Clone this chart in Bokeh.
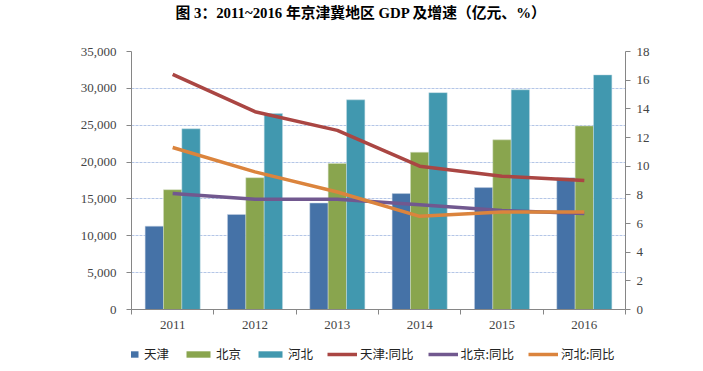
from bokeh.plotting import figure
from bokeh.models import Range1d, LinearAxis, FixedTicker, NumeralTickFormatter, Legend, LegendItem, ColumnDataSource, Label
from bokeh.layouts import column
from bokeh.transform import dodge
from bokeh.embed import file_html
from bokeh.resources import INLINE

years = ["2011", "2012", "2013", "2014", "2015", "2016"]
gdp_tianjin = [11307, 12894, 14442, 15727, 16538, 17885]
gdp_beijing = [16252, 17879, 19801, 21331, 23015, 24899]
gdp_hebei = [24516, 26575, 28443, 29421, 29806, 31828]
growth_tianjin = [16.4, 13.8, 12.5, 10.0, 9.3, 9.0]
growth_beijing = [8.1, 7.7, 7.7, 7.3, 6.9, 6.7]
growth_hebei = [11.3, 9.6, 8.2, 6.5, 6.8, 6.8]
series_names = ["天津", "北京", "河北", "天津:同比", "北京:同比", "河北:同比"]
title_text = "图 3：2011~2016 年京津冀地区 GDP 及增速（亿元、%）"

bar_colors = ["#4572a7", "#89a54e", "#4198af"]
bar_edges = ["#c8d4e4", "#d4dec4", "#c4dce4"]
line_colors = ["#aa4643", "#71588f", "#db843d"]

W = 695
FL, FR = 131, 625          # frame left / right (pixels) shared by all strips
idx = list(range(len(years)))
bw = 0.223

# ---------- title strip ----------
TH = 26
pt = figure(width=W, height=TH, x_range=Range1d(FL, FR), y_range=Range1d(0, TH),
            x_axis_location=None, y_axis_location=None, min_border=0,
            min_border_left=FL, min_border_right=W - FR,
            output_backend="svg", toolbar_location=None)
pt.grid.visible = False
pt.outline_line_color = None
pt.add_layout(Label(x=175, y=TH - 12.5, text=title_text, text_align="left", text_baseline="middle",
                    text_font="Liberation Serif, Noto Sans CJK SC", text_font_size="14.8px",
                    text_font_style="bold", text_color="black"))

# ---------- main chart ----------
p = figure(frame_width=FR - FL, frame_height=258, width=W, height=25 + 258 + 28,
           min_border_left=FL, min_border_right=W - FR, min_border_top=25, min_border_bottom=28,
           x_range=Range1d(-0.5, len(years) - 0.5), y_range=Range1d(0, 35000),
           output_backend="svg", toolbar_location=None)
p.extra_y_ranges = {"r": Range1d(0, 18)}
p.outline_line_color = None
p.xgrid.visible = False
p.ygrid.grid_line_color = "#b4c6e7"
p.ygrid.grid_line_dash = "3 1"
p.ygrid.grid_line_width = 1

src = ColumnDataSource(dict(
    x=idx, tj=gdp_tianjin, bj=gdp_beijing, hb=gdp_hebei,
    gtj=growth_tianjin, gbj=growth_beijing, ghb=growth_hebei))

p.vbar(x=dodge("x", -bw, range=p.x_range), top="tj", width=bw, source=src,
       fill_color=bar_colors[0], line_color=bar_edges[0], line_width=0.5)
p.vbar(x="x", top="bj", width=bw, source=src,
       fill_color=bar_colors[1], line_color=bar_edges[1], line_width=0.5)
p.vbar(x=dodge("x", bw, range=p.x_range), top="hb", width=bw, source=src,
       fill_color=bar_colors[2], line_color=bar_edges[2], line_width=0.5)
p.line("x", "gtj", source=src, y_range_name="r", line_color=line_colors[0], line_width=3.5)
p.line("x", "gbj", source=src, y_range_name="r", line_color=line_colors[1], line_width=3.5)
p.line("x", "ghb", source=src, y_range_name="r", line_color=line_colors[2], line_width=3.5)

axis_color = "#868686"
tick_font = "Liberation Serif"

xa = p.xaxis[0]
xa.ticker = FixedTicker(ticks=idx, minor_ticks=[i - 0.5 for i in range(len(years) + 1)])
xa.major_label_overrides = {i: y for i, y in zip(idx, years)}
xa.major_tick_out = 0
xa.major_tick_in = 0
xa.minor_tick_out = 5
xa.minor_tick_in = 0
xa.minor_tick_line_color = axis_color
xa.axis_line_color = axis_color
xa.major_label_text_font = tick_font
xa.major_label_text_font_size = "13px"
xa.major_label_standoff = 6

ya = p.yaxis[0]
ya.ticker = FixedTicker(ticks=list(range(0, 35001, 5000)))
ya.formatter = NumeralTickFormatter(format="0,0")
ya.major_tick_out = 5
ya.major_tick_in = 0
ya.minor_tick_line_color = None
ya.axis_line_color = axis_color
ya.major_tick_line_color = axis_color
ya.major_label_text_font = tick_font
ya.major_label_text_font_size = "13px"
ya.major_label_standoff = 10

ra = LinearAxis(y_range_name="r", ticker=FixedTicker(ticks=list(range(0, 19, 2))))
ra.major_tick_out = 5
ra.major_tick_in = 0
ra.minor_tick_line_color = None
ra.axis_line_color = axis_color
ra.major_tick_line_color = axis_color
ra.major_label_text_font = tick_font
ra.major_label_text_font_size = "13px"
ra.major_label_standoff = 6
p.add_layout(ra, "right")

# ---------- legend strip ----------
LH = 30
pl = figure(width=W, height=LH, x_range=Range1d(0, 1), y_range=Range1d(0, 1),
            x_axis_location=None, y_axis_location=None, min_border=0,
            min_border_left=FL, min_border_right=W - FR,
            output_backend="svg", toolbar_location=None)
pl.grid.visible = False
pl.outline_line_color = None
# legend proxies placed outside the strip's visible range
proxy = ColumnDataSource(dict(x=[-10.0, -9.0], y=[-10.0, -10.0],
                              l=[-10.0, -10.0], r=[-9.0, -9.0], b=[-10.0, -10.0], t=[-9.0, -9.0]))
swatches = []
for c, e in zip(bar_colors, bar_edges):
    swatches.append(pl.quad(left="l", right="r", bottom="b", top="t", source=proxy,
                            fill_color=c, line_color=None))
for c in line_colors:
    swatches.append(pl.line(x="x", y="y", source=proxy, line_color=c, line_width=3.5))

legend = Legend(items=[LegendItem(label=n, renderers=[r]) for n, r in zip(series_names, swatches)],
                orientation="horizontal", location=(111 - FL, 4))
legend.padding = 0
legend.margin = 0
legend.spacing = 14
legend.glyph_width = 30
legend.glyph_height = 8
legend.label_height = 16
legend.label_standoff = 3
legend.label_text_font = "Noto Sans CJK SC"
legend.label_text_font_size = "12.5px"
legend.label_text_color = "#222222"
legend.border_line_color = None
legend.background_fill_alpha = 0
pl.add_layout(legend, "center")

layout = column(pt, p, pl, spacing=0)
open("out.html", "w").write(file_html(layout, INLINE))
